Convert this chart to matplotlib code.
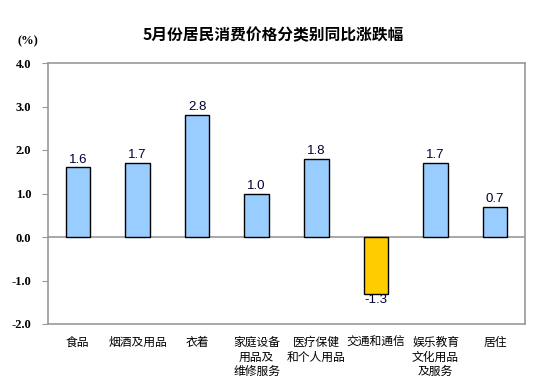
import matplotlib.pyplot as plt
import numpy as np

plt.rcParams['font.family'] = ['Noto Sans CJK SC', 'DejaVu Sans']

categories = ['食品', '烟酒及用品', '衣着', '家庭设备\n用品及\n维修服务', '医疗保健\n和个人用品',
              '交通和通信', '娱乐教育\n文化用品\n及服务', '居住']
values = [1.6, 1.7, 2.8, 1.0, 1.8, -1.3, 1.7, 0.7]
yticks = [-2.0, -1.0, 0.0, 1.0, 2.0, 3.0, 4.0]

fig = plt.figure(figsize=(5.57, 3.89), dpi=100)
ax = fig.add_axes([48 / 557, 1 - 324 / 389, 477 / 557, (324 - 63) / 389])

x = np.arange(len(categories))
colors = ['#FFCC00' if v < 0 else '#99CCFF' for v in values]
ax.bar(x, values, width=0.41, color=colors, edgecolor='black', linewidth=1, zorder=3)
ax.axhline(0, color='#999999', linewidth=1.2, zorder=2)

for xi, v in zip(x, values):
    if v >= 0:
        ax.text(xi, v + 0.04, f'{v:.1f}', ha='center', va='bottom', fontsize=9.5,
                fontfamily='Liberation Sans', color='#000033')
    else:
        ax.text(xi, v - 0.02, f'{v:.1f}', ha='center', va='top', fontsize=9.5,
                fontfamily='Liberation Sans', color='#000033')

ax.set_xlim(-0.5, len(categories) - 0.5)
ax.set_ylim(-2.0, 4.0)
ax.set_yticks(yticks)
ax.set_yticklabels([f'{t:.1f}' for t in yticks])
for lab in ax.get_yticklabels():
    lab.set_fontfamily('Liberation Serif')
    lab.set_fontweight('bold')
    lab.set_fontsize(9)
ax.tick_params(axis='y', direction='out', length=4, color='#999999', pad=8)
ax.set_xticks([])
for s in ax.spines.values():
    s.set_color('#999999')
    s.set_linewidth(1.2)

for xi, c in zip(x, categories):
    ax.text(xi, -2.28, c, ha='center', va='top', fontsize=8.5, linespacing=1.15,
            clip_on=False)

fig.text(273 / 557, 1 - 35 / 389, '5月份居民消费价格分类别同比涨跌幅', ha='center', va='center',
         fontsize=11.3, fontweight='bold')
fig.text(28 / 557, 1 - 41 / 389, '(%)', ha='center', va='center', fontsize=9,
         fontfamily='Liberation Serif', fontweight='bold')

fig.savefig('out.png', dpi=100)
